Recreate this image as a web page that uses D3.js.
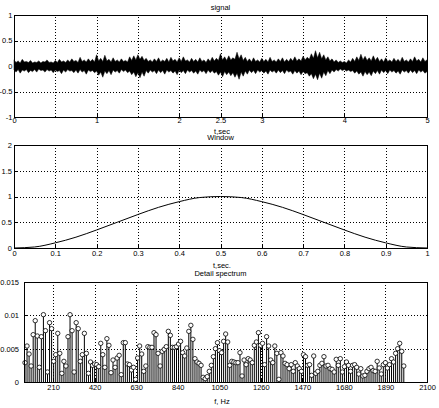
<!DOCTYPE html>
<html>
<head>
<meta charset="utf-8">
<script src="https://cdn.jsdelivr.net/npm/d3@7"></script>
<style>
  body { margin: 0; background: #fff; }
  svg { display: block; font-family: "Liberation Sans", Arial, sans-serif; }
  .grid line { stroke: #000; stroke-dasharray: 1,2; shape-rendering: crispEdges; }
  .grid path { display: none; }
  .ax path { display: none; }
  .ax line { stroke: #000; shape-rendering: crispEdges; }
  .ax text { font-size: 7.5px; fill: #000; }
  .lbl { font-size: 7.5px; fill: #000; text-anchor: middle; }
</style>
</head>
<body>
<script>
// ---- data ----
const sigStep = 0.025; // s between envelope samples
const sigUpper = [
  0.12, 0.07, 0.10, 0.06, 0.13, 0.08, 0.09, 0.07, 0.11, 0.06, 0.08, 0.07, 0.10, 0.06, 0.09, 0.08, 0.12, 0.07, 0.08, 0.06,
  0.11, 0.07, 0.13, 0.08, 0.10, 0.07, 0.12, 0.08, 0.14, 0.09, 0.11, 0.07, 0.17, 0.09, 0.12, 0.08, 0.14, 0.09, 0.13, 0.08,
  0.22, 0.10, 0.15, 0.09, 0.21, 0.10, 0.13, 0.08, 0.16, 0.09, 0.12, 0.08, 0.14, 0.09, 0.11, 0.08, 0.18, 0.11, 0.20, 0.12,
  0.22, 0.13, 0.19, 0.11, 0.15, 0.09, 0.12, 0.08, 0.14, 0.09, 0.16, 0.08, 0.12, 0.09, 0.15, 0.08, 0.17, 0.10, 0.13, 0.08,
  0.16, 0.09, 0.18, 0.10, 0.12, 0.08, 0.15, 0.09, 0.13, 0.08, 0.16, 0.09, 0.12, 0.07, 0.14, 0.09, 0.17, 0.10, 0.15, 0.11,
  0.24, 0.12, 0.18, 0.11, 0.20, 0.12, 0.16, 0.13, 0.27, 0.14, 0.22, 0.11, 0.17, 0.09, 0.14, 0.08, 0.16, 0.09, 0.12, 0.08,
  0.15, 0.09, 0.13, 0.08, 0.17, 0.09, 0.12, 0.08, 0.14, 0.09, 0.16, 0.08, 0.13, 0.09, 0.15, 0.10, 0.18, 0.10, 0.14, 0.10,
  0.19, 0.12, 0.17, 0.13, 0.24, 0.15, 0.30, 0.16, 0.27, 0.14, 0.22, 0.12, 0.18, 0.10, 0.14, 0.08, 0.12, 0.07, 0.10, 0.07,
  0.09, 0.06, 0.12, 0.08, 0.15, 0.09, 0.18, 0.11, 0.23, 0.12, 0.19, 0.11, 0.16, 0.10, 0.20, 0.11, 0.17, 0.09, 0.14, 0.08,
  0.16, 0.09, 0.12, 0.08, 0.15, 0.09, 0.13, 0.08, 0.17, 0.09, 0.12, 0.08, 0.14, 0.09, 0.18, 0.10, 0.13, 0.08, 0.16, 0.09,
  0.12];
const sigLower = [
  -0.08, -0.12, -0.07, -0.14, -0.08, -0.10, -0.07, -0.13, -0.09, -0.11, -0.07, -0.12, -0.06, -0.09, -0.08, -0.12, -0.07, -0.10, -0.08, -0.13,
  -0.08, -0.11, -0.09, -0.15, -0.08, -0.12, -0.07, -0.10, -0.09, -0.13, -0.08, -0.14, -0.07, -0.12, -0.09, -0.16, -0.08, -0.11, -0.09, -0.13,
  -0.10, -0.18, -0.12, -0.22, -0.10, -0.15, -0.09, -0.17, -0.08, -0.12, -0.09, -0.14, -0.07, -0.11, -0.08, -0.13, -0.10, -0.17, -0.12, -0.21,
  -0.13, -0.23, -0.12, -0.20, -0.09, -0.14, -0.08, -0.12, -0.09, -0.15, -0.08, -0.13, -0.09, -0.16, -0.08, -0.12, -0.09, -0.14, -0.10, -0.17,
  -0.08, -0.13, -0.09, -0.15, -0.08, -0.12, -0.09, -0.14, -0.10, -0.16, -0.08, -0.12, -0.09, -0.15, -0.08, -0.13, -0.09, -0.14, -0.11, -0.18,
  -0.12, -0.21, -0.11, -0.17, -0.12, -0.19, -0.13, -0.22, -0.14, -0.26, -0.12, -0.20, -0.10, -0.16, -0.08, -0.13, -0.09, -0.15, -0.08, -0.12,
  -0.09, -0.14, -0.10, -0.16, -0.08, -0.12, -0.09, -0.14, -0.08, -0.13, -0.09, -0.15, -0.08, -0.12, -0.10, -0.16, -0.09, -0.14, -0.10, -0.17,
  -0.11, -0.15, -0.13, -0.20, -0.15, -0.25, -0.16, -0.27, -0.14, -0.24, -0.12, -0.19, -0.09, -0.15, -0.08, -0.12, -0.07, -0.10, -0.06, -0.09,
  -0.07, -0.10, -0.08, -0.11, -0.09, -0.14, -0.10, -0.16, -0.12, -0.20, -0.11, -0.17, -0.12, -0.19, -0.10, -0.15, -0.09, -0.16, -0.08, -0.13,
  -0.09, -0.15, -0.08, -0.12, -0.09, -0.14, -0.10, -0.16, -0.08, -0.12, -0.09, -0.14, -0.08, -0.13, -0.09, -0.15, -0.08, -0.12, -0.09, -0.14,
  -0.11];

const winT = [0, 0.05, 0.1, 0.15, 0.2, 0.25, 0.3, 0.35, 0.4, 0.45, 0.5,
  0.55, 0.6, 0.65, 0.7, 0.75, 0.8, 0.85, 0.9, 0.95, 1];
const winV = [0, 0.02, 0.10, 0.21, 0.35, 0.50, 0.65, 0.79, 0.90, 0.98, 1.00,
  0.98, 0.90, 0.79, 0.65, 0.50, 0.35, 0.21, 0.10, 0.02, 0];

const fStart = 68, fStep = 10.35;
const spec = [0.0029, 0.0054, 0.0042, 0.0024, 0.0071, 0.0092, 0.0069, 0.0022, 0.0068, 0.0101,
  0.0077, 0.0015, 0.0089, 0.0080, 0.0031, 0.0041, 0.0073, 0.0043, 0.0013, 0.0031,
  0.0024, 0.0068, 0.0101, 0.0077, 0.0015, 0.0089, 0.0080, 0.0031, 0.0041, 0.0073,
  0.0043, 0.0013, 0.0030,
  0.0025, 0.0027, 0.0026, 0.0023, 0.0058, 0.0041, 0.0022, 0.0065, 0.0055, 0.0014,
  0.0033, 0.0022, 0.0036, 0.0040, 0.0011, 0.0059, 0.0059, 0.0027, 0.0026, 0.0018,
  0.0022, 0.0004, 0.0036, 0.0054, 0.0042, 0.0016, 0.0024, 0.0053, 0.0052, 0.0052,
  0.0074, 0.0071, 0.0043, 0.0024, 0.0046, 0.0049, 0.0053, 0.0076, 0.0070, 0.0052,
  0.0052, 0.0053, 0.0057, 0.0061, 0.0044, 0.0039, 0.0051, 0.0076, 0.0085, 0.0064,
  0.0035, 0.0030, 0.0028, 0.0025, 0.0007, 0.0005, 0.0008, 0.0016, 0.0025, 0.0038,
  0.0050, 0.0059, 0.0047,
  0.0044, 0.0061, 0.0072, 0.0060,
  0.0025, 0.0031, 0.0030, 0.0029, 0.0029, 0.0044, 0.0009, 0.0033, 0.0026, 0.0035,
  0.0033, 0.0029, 0.0055, 0.0060, 0.0074, 0.0055, 0.0058, 0.0026, 0.0068, 0.0054,
  0.0033, 0.0029, 0.0054, 0.0043, 0.0004, 0.0044, 0.0039, 0.0028, 0.0026, 0.0020,
  0.0026, 0.0016, 0.0029, 0.0024, 0.0020, 0.0016, 0.0041, 0.0038, 0.0025, 0.0026,
  0.0010, 0.0039, 0.0013, 0.0016, 0.0025, 0.0028, 0.0038, 0.0024, 0.0025, 0.0020,
  0.0019, 0.0015, 0.0034, 0.0025, 0.0035, 0.0015, 0.0023, 0.0030, 0.0025, 0.0016,
  0.0025, 0.0026, 0.0022, 0.0012, 0.0020, 0.0009, 0.0010, 0.0016, 0.0020, 0.0022,
  0.0017, 0.0016, 0.0031, 0.0021, 0.0012, 0.0026, 0.0029, 0.0021, 0.0026, 0.0035,
  0.0030, 0.0043, 0.0050, 0.0058, 0.0046, 0.0024];

// tick values and labels
const sigXGrid = [0.5, 1, 1.5, 2, 2.5, 3, 3.5, 4, 4.5];
const sigXLabels = [0, 1, 2, 2.5, 3, 4, 5];
const sigYTicks = [-1, -0.5, 0, 0.5, 1];
const winXTicks = [0, 0.1, 0.2, 0.3, 0.4, 0.5, 0.6, 0.7, 0.8, 0.9, 1];
const winYTicks = [0, 0.5, 1, 1.5, 2];
const specXTicks = [210, 420, 630, 840, 1050, 1260, 1470, 1680, 1890, 2100];
const specYTicks = [0, 0.005, 0.01, 0.015];

const W = 439, H = 408;
const svg = d3.select('body').append('svg').attr('width', W).attr('height', H);
svg.append('rect').attr('width', W).attr('height', H).attr('fill', '#fff');

// draws grid, inward ticks and tick labels for one axes
function frame(x, y, opt) {
    const [x0, x1] = x.range(), [y1, y0] = y.range();
    const g = svg.append('g');
    g.append('g').attr('class', 'grid').attr('transform', `translate(0,${y1})`)
        .call(d3.axisBottom(x).tickValues(opt.xGrid).tickSize(-(y1 - y0)).tickFormat(''));
    g.append('g').attr('class', 'grid').attr('transform', `translate(${x0},0)`)
        .call(d3.axisLeft(y).tickValues(opt.yGrid).tickSize(-(x1 - x0)).tickFormat(''));
    g.append('g').attr('class', 'ax').attr('transform', `translate(0,${y1})`)
        .call(d3.axisBottom(x).tickValues(opt.xLab).tickSize(-3).tickPadding(opt.xPad).tickFormat(d => d));
    g.append('g').attr('class', 'ax').attr('transform', `translate(${x0},0)`)
        .call(d3.axisLeft(y).tickValues(opt.yLab).tickSize(-3).tickPadding(opt.yPad).tickFormat(d => d));
    return g;
}
function box(x, y) {
    const [x0, x1] = x.range(), [y1, y0] = y.range();
    svg.append('rect').attr('x', x0 + 0.5).attr('y', y0 + 0.5)
        .attr('width', x1 - x0).attr('height', y1 - y0)
        .attr('fill', 'none').attr('stroke', '#000').attr('shape-rendering', 'crispEdges');
}
function label(txt, x, y) {
    svg.append('text').attr('class', 'lbl').attr('x', x).attr('y', y).text(txt);
}

// ---- signal ----
const xs = d3.scaleLinear().domain([0, 5]).range([14, 427]);
const ys = d3.scaleLinear().domain([-1, 1]).range([117, 15]);
frame(xs, ys, { xGrid: sigXGrid, yGrid: [-0.5, 0, 0.5], xLab: sigXLabels, yLab: sigYTicks, xPad: 1, yPad: 1.5 });
const sigPts = sigUpper.map((u, i) => ({ t: i * sigStep, u: u, l: sigLower[i] }));
svg.append('path').datum(sigPts)
    .attr('d', d3.area().x(d => xs(d.t)).y0(d => ys(d.l)).y1(d => ys(d.u)))
    .attr('fill', '#000').attr('stroke', '#000').attr('stroke-width', 0.5);
box(xs, ys);
label('signal', 220.5, 10);
label('t,sec', 222, 134);

// ---- window ----
const xw = d3.scaleLinear().domain([0, 1]).range([14, 427]);
const yw = d3.scaleLinear().domain([0, 2]).range([248, 145]);
frame(xw, yw, { xGrid: winXTicks.slice(1, -1), yGrid: [0.5, 1, 1.5], xLab: winXTicks, yLab: winYTicks, xPad: 3, yPad: 2 });
svg.append('path').datum(winT.map((t, i) => [t, winV[i]]))
    .attr('d', d3.line().x(d => xw(d[0])).y(d => yw(d[1])).curve(d3.curveMonotoneX))
    .attr('fill', 'none').attr('stroke', '#000').attr('stroke-width', 1);
box(xw, yw);
label('Window', 220.5, 140);
label('t,sec.', 222, 268);

// ---- detail spectrum ----
const xf = d3.scaleLinear().domain([63, 2100]).range([24, 427]);
const yf = d3.scaleLinear().domain([0, 0.015]).range([382, 282]);
frame(xf, yf, { xGrid: specXTicks.slice(0, -1), yGrid: [0.005, 0.01], xLab: specXTicks, yLab: specYTicks, xPad: 3, yPad: 5 });
const specPts = spec.map((v, i) => ({ f: fStart + i * fStep, v: v }));
const sg = svg.append('g');
sg.selectAll('line').data(specPts).enter().append('line')
    .attr('x1', d => xf(d.f)).attr('x2', d => xf(d.f))
    .attr('y1', yf(0)).attr('y2', d => yf(d.v))
    .attr('stroke', '#000').attr('stroke-width', 1);
sg.selectAll('circle').data(specPts).enter().append('circle')
    .attr('cx', d => xf(d.f)).attr('cy', d => yf(d.v)).attr('r', 2.2)
    .attr('fill', '#fff').attr('stroke', '#000').attr('stroke-width', 0.8);
box(xf, yf);
label('Detail spectrum', 220.5, 276);
label('f, Hz', 222, 404);
</script>
</body>
</html>
